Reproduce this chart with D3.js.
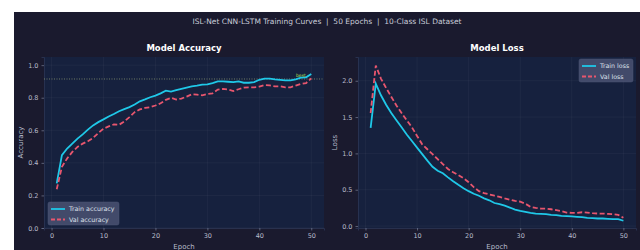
<!DOCTYPE html>
<html><head><meta charset="utf-8">
<script src="https://cdn.jsdelivr.net/npm/d3@7"></script>
<style>html,body{margin:0;padding:0;background:#fff;}svg{display:block;}</style>
</head><body>
<svg id="c" width="640" height="250"></svg>
<script>
const epochs = d3.range(1, 51);
const trainAcc = [0.274,0.447,0.488,0.518,0.549,0.575,0.604,0.63,0.65,0.667,0.685,0.70,0.717,0.73,0.742,0.758,0.778,0.79,0.803,0.813,0.827,0.843,0.837,0.846,0.854,0.862,0.87,0.874,0.88,0.882,0.89,0.90,0.90,0.898,0.896,0.90,0.892,0.892,0.896,0.91,0.917,0.917,0.913,0.91,0.906,0.906,0.913,0.923,0.925,0.945];
const valAcc = [0.238,0.376,0.427,0.467,0.498,0.518,0.533,0.553,0.583,0.61,0.624,0.636,0.634,0.654,0.681,0.711,0.728,0.738,0.742,0.752,0.766,0.787,0.799,0.789,0.795,0.807,0.821,0.819,0.815,0.823,0.827,0.85,0.854,0.85,0.841,0.852,0.862,0.864,0.864,0.868,0.878,0.876,0.87,0.87,0.864,0.864,0.874,0.884,0.89,0.919];
const trainLoss = [1.35,1.96,1.80,1.67,1.556,1.456,1.36,1.26,1.17,1.08,0.99,0.90,0.816,0.762,0.726,0.67,0.617,0.567,0.52,0.48,0.444,0.417,0.381,0.354,0.317,0.30,0.28,0.254,0.227,0.209,0.195,0.181,0.172,0.168,0.163,0.154,0.15,0.14,0.136,0.132,0.127,0.122,0.113,0.109,0.104,0.104,0.10,0.095,0.095,0.073];
const valLoss = [1.556,2.21,2.03,1.90,1.78,1.66,1.556,1.456,1.36,1.24,1.125,1.057,0.99,0.92,0.853,0.785,0.74,0.703,0.658,0.603,0.535,0.48,0.454,0.435,0.417,0.40,0.38,0.363,0.345,0.336,0.308,0.263,0.25,0.24,0.24,0.231,0.218,0.204,0.186,0.181,0.181,0.19,0.186,0.177,0.172,0.172,0.168,0.163,0.154,0.113];
const accTicks = [0.0,0.2,0.4,0.6,0.8,1.0];
const lossTicks = [0.0,0.5,1.0,1.5,2.0];
const epochTicks = [0,10,20,30,40,50];
const targetAcc = 0.915;
const suptitle = "ISL-Net CNN-LSTM Training Curves  |  50 Epochs  |  10-Class ISL Dataset";

const C = {fig:"#1a1a2e", ax:"#16213e", train:"#1fc8e8", val:"#e8566e", text:"#b8bccb", grid:"rgba(255,255,255,0.07)"};
const svg = d3.select("#c");
const font = "DejaVu Sans, sans-serif";

svg.append("rect").attr("x",14).attr("y",12).attr("width",626).attr("height",238).attr("fill",C.fig);
svg.append("text").attr("x",327).attr("y",24).attr("text-anchor","middle").attr("fill","#c9ccd8")
  .attr("font-family",font).attr("font-size",7.5).style("white-space","pre").text(suptitle);

function panel(opts){
  const {x0,x1,y0,y1,yDomain,yTicks,fmt,title,ylabel,series,legendPos,legendLabels} = opts;
  const x = d3.scaleLinear().domain([-1.45,52.45]).range([x0,x1]);
  const y = d3.scaleLinear().domain(yDomain).range([y1,y0]);
  const g = svg.append("g");
  g.append("rect").attr("x",x0).attr("y",y0).attr("width",x1-x0).attr("height",y1-y0).attr("fill",C.ax);
  g.selectAll(".gx").data(epochTicks).join("line").attr("x1",d=>x(d)).attr("x2",d=>x(d)).attr("y1",y0).attr("y2",y1).attr("stroke",C.grid).attr("stroke-width",0.6);
  g.selectAll(".gy").data(yTicks).join("line").attr("y1",d=>y(d)).attr("y2",d=>y(d)).attr("x1",x0).attr("x2",x1).attr("stroke",C.grid).attr("stroke-width",0.6);
  const xa = g.append("g").attr("transform",`translate(0,${y1})`).call(d3.axisBottom(x).tickValues(epochTicks).tickSize(2.5).tickPadding(3));
  const ya = g.append("g").attr("transform",`translate(${x0},0)`).call(d3.axisLeft(y).tickValues(yTicks).tickFormat(fmt).tickSize(2.5).tickPadding(3));
  [xa,ya].forEach(a=>{
    a.select(".domain").attr("stroke","#2c3656").attr("stroke-width",0.8);
    a.selectAll(".tick line").attr("stroke","#8890a8").attr("stroke-width",0.6);
    a.selectAll("text").attr("fill",C.text).attr("font-family",font).attr("font-size",6.5);
  });
  g.append("text").attr("x",(x0+x1)/2).attr("y",51).attr("text-anchor","middle").attr("fill","#ffffff")
    .attr("font-family",font).attr("font-size",8.5).attr("font-weight","bold").text(title);
  g.append("text").attr("x",(x0+x1)/2).attr("y",y1+21).attr("text-anchor","middle").attr("fill",C.text)
    .attr("font-family",font).attr("font-size",7).text("Epoch");
  g.append("text").attr("transform",`translate(${x0-21},${(y0+y1)/2}) rotate(-90)`).attr("text-anchor","middle").attr("fill",C.text)
    .attr("font-family",font).attr("font-size",7).text(ylabel);
  if (opts.target!==undefined){
    g.append("line").attr("x1",x0).attr("x2",x1).attr("y1",y(opts.target)).attr("y2",y(opts.target))
      .attr("stroke","#9aa878").attr("stroke-width",0.8).attr("stroke-dasharray","1,1.5").attr("opacity",0.85);
  }
  const line = d3.line().x((d,i)=>x(epochs[i])).y(d=>y(d));
  g.append("path").datum(series[0]).attr("d",line).attr("fill","none").attr("stroke",C.train).attr("stroke-width",1.8);
  g.append("path").datum(series[1]).attr("d",line).attr("fill","none").attr("stroke",C.val).attr("stroke-width",1.8).attr("stroke-dasharray","5,2.5");
  if (opts.annot){
    g.append("text").attr("x",x(opts.annot[0])).attr("y",y(opts.annot[1])).attr("fill","#b8e05a")
      .attr("font-family",font).attr("font-size",4.5).attr("text-anchor","middle").text("best");
  }
  const [lx,ly,lw,lh] = legendPos;
  const lg = g.append("g").attr("transform",`translate(${lx},${ly})`);
  lg.append("rect").attr("width",lw).attr("height",lh).attr("rx",2).attr("fill","#4a5272").attr("opacity",0.85).attr("stroke","#5a6282").attr("stroke-width",0.5);
  [[C.train,null],[C.val,"4,2"]].forEach((s,i)=>{
    const yy = 7 + i*10.5;
    lg.append("line").attr("x1",3).attr("x2",17).attr("y1",yy).attr("y2",yy).attr("stroke",s[0]).attr("stroke-width",1.8).attr("stroke-dasharray",s[1]);
    lg.append("text").attr("x",21).attr("y",yy+2.4).attr("fill","#dde0ea").attr("font-family",font).attr("font-size",6.3).text(legendLabels[i]);
  });
}

panel({x0:44,x1:324,y0:57,y1:228,yDomain:[0,1.05],yTicks:accTicks,fmt:d3.format(".1f"),title:"Model Accuracy",ylabel:"Accuracy",
  series:[trainAcc,valAcc],legendPos:[48,202,71,23],legendLabels:["Train accuracy","Val accuracy"],target:targetAcc,annot:[48,0.925]});
panel({x0:358,x1:636,y0:57,y1:228,yDomain:[-0.027,2.327],yTicks:lossTicks,fmt:d3.format(".1f"),title:"Model Loss",ylabel:"Loss",
  series:[trainLoss,valLoss],legendPos:[579,59,54,23],legendLabels:["Train loss","Val loss"]});
</script>
</body></html>
